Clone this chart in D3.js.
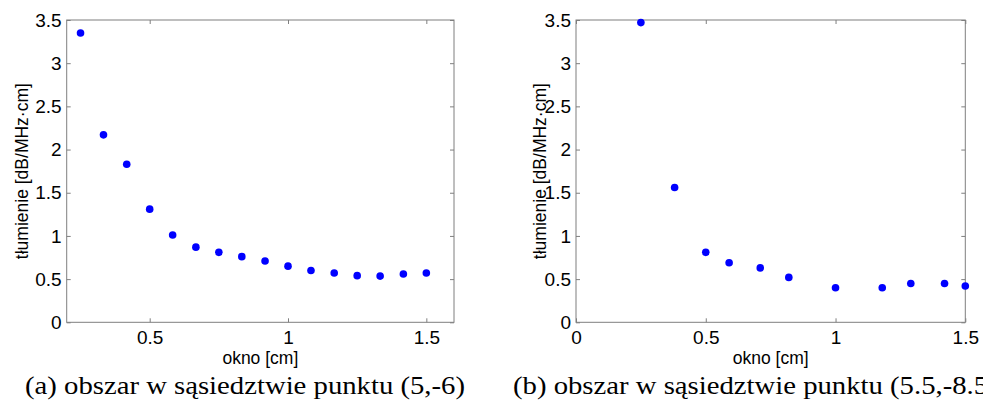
<!DOCTYPE html>
<html>
<head>
<meta charset="utf-8">
<script src="https://cdn.jsdelivr.net/npm/d3@7"></script>
<style>
  html, body { margin: 0; padding: 0; background: #fff; }
  svg { display: block; }
</style>
</head>
<body>
<svg id="chart" width="983" height="407"></svg>
<script>
// ---- data ----
const xA = [0.25, 0.333, 0.417, 0.5, 0.583, 0.667, 0.75, 0.833, 0.917, 1.0, 1.083, 1.167, 1.25, 1.333, 1.417, 1.5];
const yA = [3.35, 2.17, 1.83, 1.31, 1.01, 0.87, 0.81, 0.76, 0.71, 0.65, 0.60, 0.57, 0.54, 0.535, 0.56, 0.57];
const xB = [0.25, 0.38, 0.5, 0.59, 0.71, 0.82, 1.0, 1.18, 1.29, 1.42, 1.5];
const yB = [3.47, 1.56, 0.81, 0.69, 0.63, 0.52, 0.40, 0.40, 0.45, 0.45, 0.42];
const yTicks = [0, 0.5, 1, 1.5, 2, 2.5, 3, 3.5];
const xTicksA = [0.5, 1, 1.5];
const xTicksB = [0, 0.5, 1, 1.5];
const yLabel = "tłumienie [dB/MHz·cm]";
const xLabel = "okno [cm]";
const captionA = "(a) obszar w sąsiedztwie punktu (5,-6)";
const captionB = "(b) obszar w sąsiedztwie punktu (5.5,-8.5)";

const svg = d3.select("#chart");
const axisColor = "#7f7f7f";
const sans = "'Liberation Sans', Arial, sans-serif";
const serif = "'Liberation Serif', 'DejaVu Serif', serif";

function panel(cfg) {
  const {left, right, top, bottom, xDomain, xTicks, xs, ys, labelX} = cfg;
  const x = d3.scaleLinear().domain(xDomain).range([left, right]);
  const y = d3.scaleLinear().domain([0, 3.5]).range([bottom, top]);
  const g = svg.append("g");

  const fmt = d => d3.format("")(d);

  const ax = (axis, tr) => {
    const a = g.append("g").attr("transform", tr).call(axis);
    a.select(".domain").remove();
    a.selectAll(".tick line").attr("stroke", axisColor);
    a.selectAll("text").attr("fill", "#000").attr("font-family", sans).attr("font-size", 19);
    return a;
  };
  ax(d3.axisLeft(y).tickValues(yTicks).tickFormat(fmt).tickSizeInner(-4).tickSizeOuter(0).tickPadding(5),
     `translate(${left},0)`);
  ax(d3.axisRight(y).tickValues(yTicks).tickFormat("").tickSizeInner(-4).tickSizeOuter(0),
     `translate(${right},0)`);
  ax(d3.axisBottom(x).tickValues(xTicks).tickFormat(fmt).tickSizeInner(-4).tickSizeOuter(0).tickPadding(8.5),
     `translate(0,${bottom})`);
  ax(d3.axisTop(x).tickValues(xTicks).tickFormat("").tickSizeInner(-4).tickSizeOuter(0),
     `translate(0,${top})`);

  g.append("rect")
    .attr("x", left).attr("y", top)
    .attr("width", right - left).attr("height", bottom - top)
    .attr("fill", "none").attr("stroke", axisColor).attr("stroke-width", 1);

  g.selectAll("circle.pt").data(xs.map((v, i) => [v, ys[i]])).join("circle")
    .attr("class", "pt")
    .attr("cx", d => x(d[0])).attr("cy", d => y(d[1]))
    .attr("r", 3.8).attr("fill", "#0000ff");

  g.append("text")
    .attr("transform", `translate(${labelX},${(top + bottom) / 2})  rotate(-90)`)
    .attr("text-anchor", "middle")
    .attr("font-family", sans).attr("font-size", 17.5)
    .text(yLabel);

  g.append("text")
    .attr("x", (left + right) / 2).attr("y", 363.5)
    .attr("text-anchor", "middle")
    .attr("font-family", sans).attr("font-size", 17.5)
    .text(xLabel);
}

panel({left: 66.7, right: 454, top: 20, bottom: 322.3, xDomain: [0.2, 1.6],
       xTicks: xTicksA, xs: xA, ys: yA, labelX: 28});
panel({left: 576, right: 965.3, top: 20, bottom: 322.3, xDomain: [0, 1.5],
       xTicks: xTicksB, xs: xB, ys: yB, labelX: 546});

// captions: serif, stretched to the wider Computer Modern look
const capA = svg.append("text").attr("x", 25).attr("y", 394)
  .attr("font-family", serif).attr("font-size", 25).text(captionA);
const capB = svg.append("text").attr("x", 513).attr("y", 394)
  .attr("font-family", serif).attr("font-size", 25).text(captionB);
const natA = capA.node().getComputedTextLength();
const natB = capB.node().getComputedTextLength();
const factor = 440 / natA;
capA.attr("textLength", natA * factor).attr("lengthAdjust", "spacingAndGlyphs");
capB.attr("textLength", natB * factor).attr("lengthAdjust", "spacingAndGlyphs");
</script>
</body>
</html>
